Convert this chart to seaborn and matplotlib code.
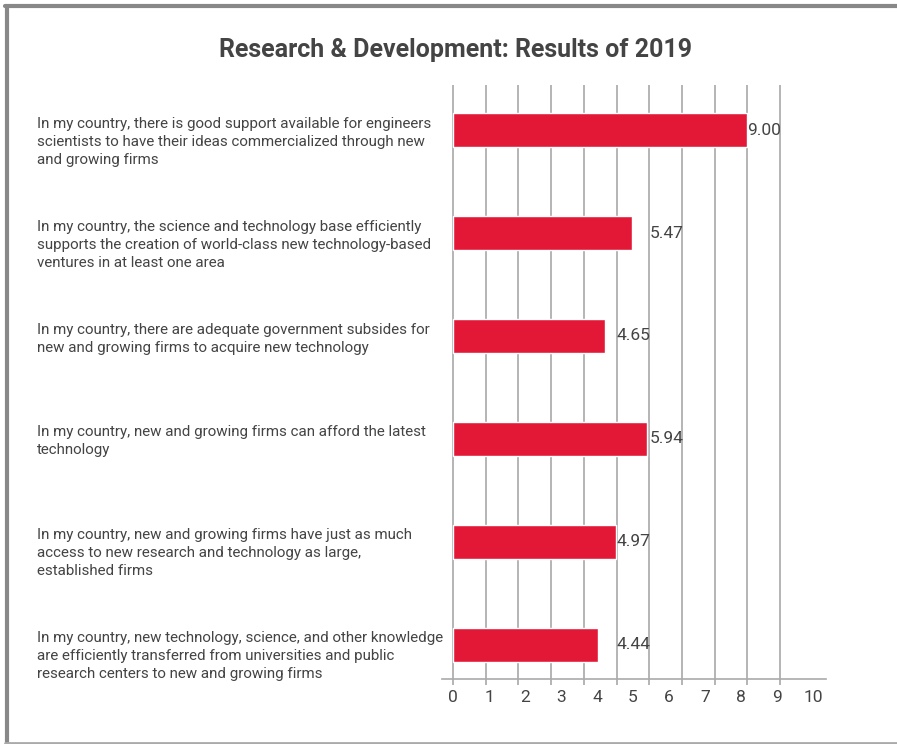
import numpy as np
import pandas as pd
import matplotlib
matplotlib.use("Agg")
import matplotlib.pyplot as plt
import matplotlib.transforms as mtransforms
from matplotlib.lines import Line2D
import seaborn as sns

categories = [
    "In my country, there is good support available for engineers\nscientists to have their ideas commercialized through new\nand growing firms",
    "In my country, the science and technology base efficiently\nsupports the creation of world-class new technology-based\nventures in at least one area",
    "In my country, there are adequate government subsides for\nnew and growing firms to acquire new technology",
    "In my country, new and growing firms can afford the latest\ntechnology",
    "In my country, new and growing firms have just as much\naccess to new research and technology as large,\nestablished firms",
    "In my country, new technology, science, and other knowledge\nare efficiently transferred from universities and public\nresearch centers to new and growing firms",
]
values = [9.00, 5.47, 4.65, 5.94, 4.97, 4.44]
tick_labels = [str(i) for i in range(11)]

sns.set_theme(style="white")
plt.rcParams["font.family"] = ["Roboto", "DejaVu Sans"]

text_color = "#444444"
bar_color = "#E31837"

df = pd.DataFrame({"cat": categories, "val": values})

fig = plt.figure(figsize=(8.97, 7.44), dpi=100)
ax = fig.add_axes([442 / 897, 65 / 744, 384 / 897, 594 / 744])

sns.barplot(data=df, x="val", y="cat", orient="h", color=bar_color,
            width=0.33, saturation=1, ax=ax, zorder=3)

ax.set_xlim(-0.336, 11.4)
ax.set_ylim(5.335, -0.44)

# gridlines at true values (minor ticks), labels shifted (major ticks)
ax.xaxis.remove_overlapping_locs = False
ax.set_xticks(np.arange(11), minor=True)
ax.set_xticks(np.arange(11) * 1.1)
ax.set_xticklabels(tick_labels)
ax.grid(False)
ax.grid(which="minor", axis="x", color="#a8a8a8", linewidth=1.2, zorder=1)
ax.tick_params(axis="x", which="minor", length=4, width=1.2, color="#a8a8a8", bottom=True)
ax.tick_params(axis="x", which="major", length=0, pad=8, labelsize=12.5, labelcolor=text_color)
ax.set_yticks([])
ax.set_xlabel("")
ax.set_ylabel("")
for s in ["top", "right", "left"]:
    ax.spines[s].set_visible(False)
ax.spines["bottom"].set_color("#aaaaaa")
ax.spines["bottom"].set_linewidth(1.2)

# value labels
for i, v in enumerate(values):
    ax.text(np.ceil(v), i, f"{v:.2f}", ha="left", va="center",
            fontsize=12.5, color=text_color, zorder=4)

# category labels, left aligned
trans = mtransforms.blended_transform_factory(fig.transFigure, ax.transData)
for i, c in enumerate(categories):
    ax.text(37 / 897, i - 0.13, c, transform=trans, ha="left", va="top",
            fontsize=10.9, color=text_color, linespacing=1.36)

fig.text(455 / 897, 1 - 50 / 744, "Research & Development: Results of 2019",
         ha="center", va="center", fontsize=18, fontweight="bold", color=text_color)

# frame
fig.add_artist(Line2D([6.5 / 897, 6.5 / 897], [0, 1 - 6 / 744], transform=fig.transFigure,
                      color="#888888", linewidth=3))
fig.add_artist(Line2D([5 / 897, 1], [1 - 6 / 744, 1 - 6 / 744], transform=fig.transFigure,
                      color="#888888", linewidth=3))
fig.add_artist(Line2D([5 / 897, 1], [1.5 / 744, 1.5 / 744], transform=fig.transFigure,
                      color="#aaaaaa", linewidth=2))

fig.savefig("out.png", dpi=100, facecolor="white")
